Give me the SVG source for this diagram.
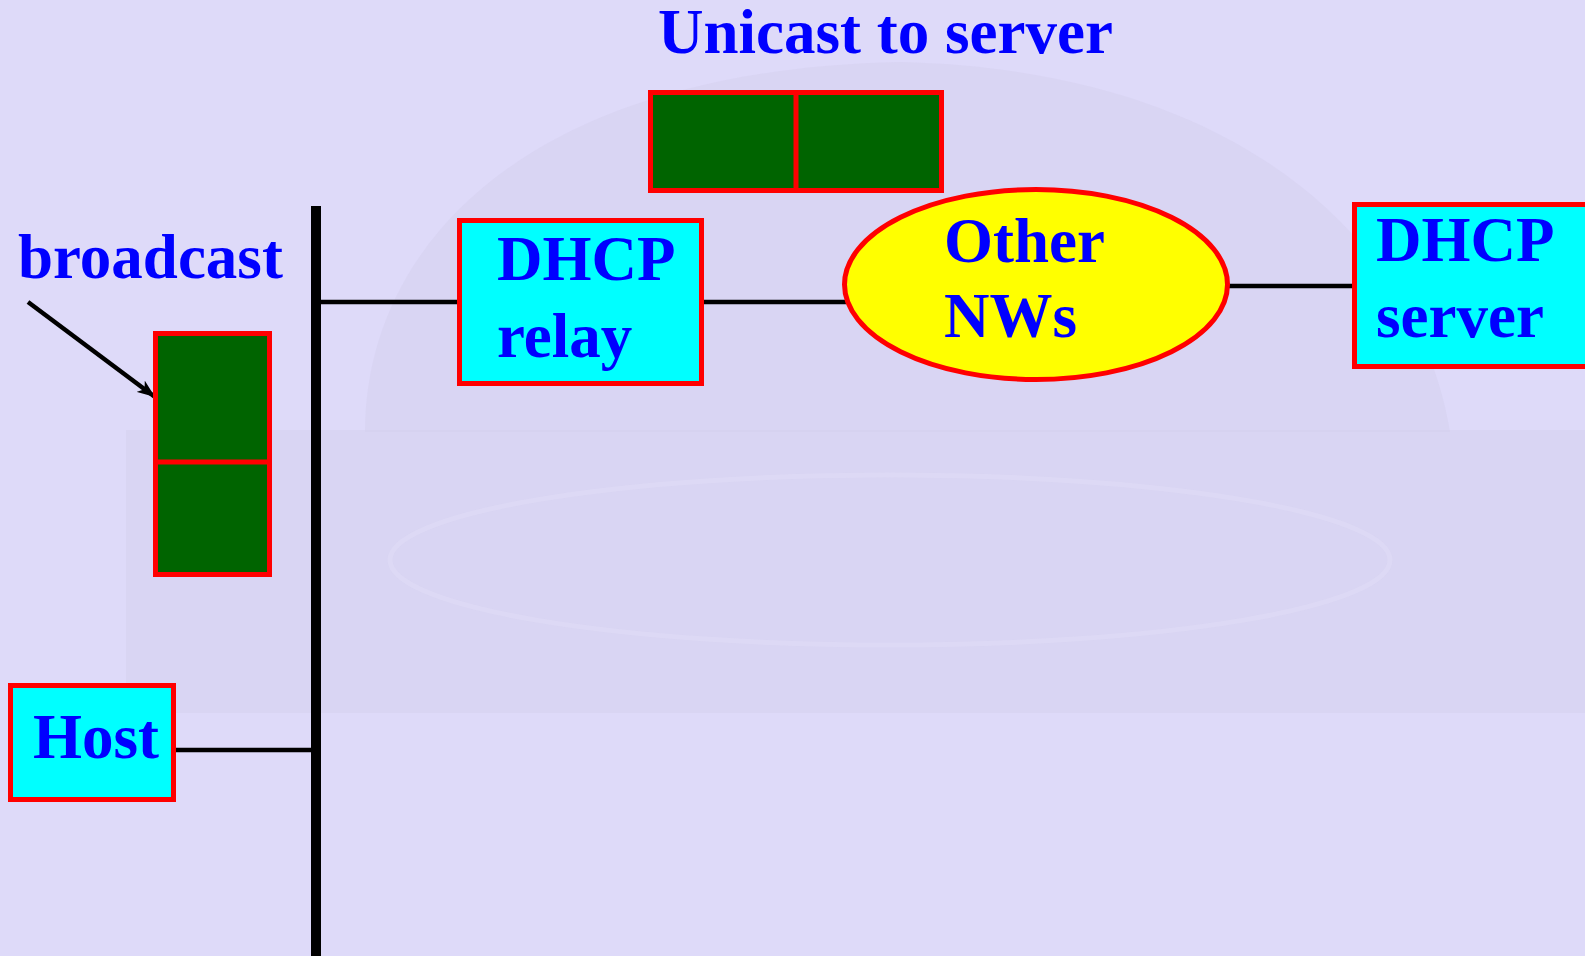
<svg xmlns="http://www.w3.org/2000/svg" width="1585" height="956" viewBox="0 0 1585 956">
<defs>
<style>
.lbl{font-family:"Liberation Serif","Times New Roman",serif;font-weight:bold;font-size:63px;fill:#0000FF}
.box{fill:#00FFFF;stroke:#FF0000;stroke-width:5}
.pkt{fill:#006400;stroke:#FF0000;stroke-width:5}
.wire{stroke:#000000;stroke-width:4.5;fill:none}
.bg{fill:#D2CEEC;opacity:0.4}
</style>
<marker id="ah" viewBox="0 0 18 14" refX="18" refY="7" markerWidth="18" markerHeight="14" markerUnits="userSpaceOnUse" orient="auto">
<path d="M0,0 L18,7 L0,14 L5,7 Z" fill="#000000"/>
</marker>
</defs>
<rect x="0" y="0" width="1585" height="956" fill="#DEDAF9"/>
<g id="background-photo">
<path class="bg" d="M365,432 C365,250 520,70 900,62 C1250,70 1420,250 1450,432 Z"/>
<rect class="bg" x="126" y="430" width="1459" height="283"/>
<ellipse cx="890" cy="560" rx="500" ry="85" fill="none" stroke="#E2DEF8" stroke-width="5" opacity="0.5"/>
</g>
<g id="connectors">
<line x1="316" y1="206" x2="316" y2="956" stroke="#000000" stroke-width="10"/>
<line class="wire" x1="316" y1="302" x2="459" y2="302"/>
<line class="wire" x1="702" y1="302" x2="846" y2="302"/>
<line class="wire" x1="1226" y1="286" x2="1354" y2="286"/>
<line class="wire" x1="174" y1="750" x2="316" y2="750"/>
<line class="wire" x1="28" y1="302" x2="155" y2="397" marker-end="url(#ah)"/>
</g>
<g id="title">
<text class="lbl" x="658" y="53">Unicast to server</text>
</g>
<g id="broadcast-label">
<text class="lbl" x="18" y="278">broadcast</text>
</g>
<g id="unicast-packet">
<rect class="pkt" x="650.5" y="92.5" width="291" height="98"/>
<line x1="796" y1="92" x2="796" y2="191" stroke="#FF0000" stroke-width="5"/>
</g>
<g id="broadcast-packet">
<rect class="pkt" x="155.5" y="333.5" width="114" height="241"/>
<line x1="155" y1="462" x2="270" y2="462" stroke="#FF0000" stroke-width="5"/>
</g>
<g id="dhcp-relay">
<rect class="box" x="459.5" y="220.5" width="242" height="163"/>
<text class="lbl" x="497" y="280">DHCP</text>
<text class="lbl" x="497" y="357">relay</text>
</g>
<g id="other-nws">
<ellipse cx="1036" cy="284.5" rx="191.5" ry="95" fill="#FFFF00" stroke="#FF0000" stroke-width="5"/>
<text class="lbl" x="944" y="262">Other</text>
<text class="lbl" x="944" y="337">NWs</text>
</g>
<g id="dhcp-server">
<rect class="box" x="1354.5" y="204.5" width="260" height="162"/>
<text class="lbl" x="1376" y="261">DHCP</text>
<text class="lbl" x="1376" y="337">server</text>
</g>
<g id="host">
<rect class="box" x="10.5" y="685.5" width="163" height="114"/>
<text class="lbl" x="33" y="758">Host</text>
</g>
</svg>
